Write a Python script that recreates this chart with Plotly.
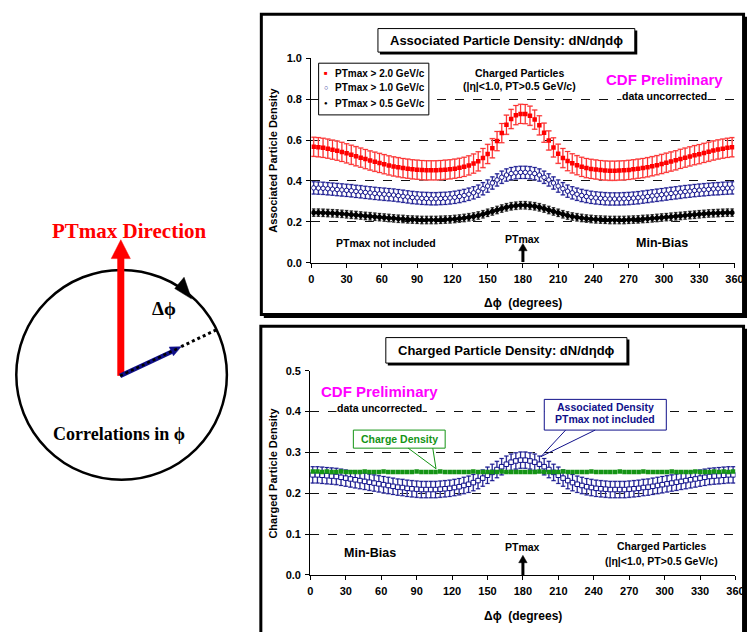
import plotly.graph_objects as go

W, H = 756, 632
SANS = "Liberation Sans, Arial, sans-serif"
SERIF = "Liberation Serif, Times New Roman, serif"


def px(x):
    return x / W


def py(y):
    return 1 - y / H


# ---------------- data ----------------
dphi = [2, 6, 10, 14, 18, 22, 26, 30, 34, 38,
        42, 46, 50, 54, 58, 62, 66, 70, 74, 78,
        82, 86, 90, 94, 98, 102, 106, 110, 114, 118,
        122, 126, 130, 134, 138, 142, 146, 150, 154, 158,
        162, 166, 170, 174, 178, 182, 186, 190, 194, 198,
        202, 206, 210, 214, 218, 222, 226, 230, 234, 238,
        242, 246, 250, 254, 258, 262, 266, 270, 274, 278,
        282, 286, 290, 294, 298, 302, 306, 310, 314, 318,
        322, 326, 330, 334, 338, 342, 346, 350, 354, 358]

ptmax_20 = [0.567, 0.565, 0.562, 0.558, 0.553, 0.548, 0.542, 0.535, 0.528, 0.521,
            0.514, 0.507, 0.500, 0.494, 0.488, 0.482, 0.476, 0.471, 0.467, 0.463,
            0.460, 0.457, 0.455, 0.453, 0.452, 0.452, 0.452, 0.453, 0.455, 0.457,
            0.460, 0.464, 0.469, 0.476, 0.485, 0.496, 0.512, 0.532, 0.560, 0.595,
            0.634, 0.675, 0.703, 0.722, 0.728, 0.727, 0.719, 0.700, 0.672, 0.636,
            0.598, 0.564, 0.533, 0.512, 0.497, 0.486, 0.477, 0.469, 0.463, 0.459,
            0.456, 0.453, 0.451, 0.450, 0.450, 0.451, 0.452, 0.454, 0.457, 0.460,
            0.463, 0.467, 0.472, 0.477, 0.483, 0.489, 0.495, 0.501, 0.508, 0.514,
            0.520, 0.526, 0.531, 0.537, 0.543, 0.549, 0.554, 0.558, 0.562, 0.565]

ptmax_10 = [0.366, 0.365, 0.364, 0.362, 0.360, 0.358, 0.356, 0.354, 0.352, 0.349,
            0.347, 0.344, 0.342, 0.339, 0.337, 0.335, 0.333, 0.331, 0.328, 0.325,
            0.322, 0.319, 0.317, 0.315, 0.314, 0.313, 0.313, 0.314, 0.315, 0.317,
            0.320, 0.324, 0.329, 0.335, 0.342, 0.350, 0.362, 0.375, 0.390, 0.405,
            0.418, 0.429, 0.436, 0.440, 0.442, 0.442, 0.440, 0.436, 0.429, 0.418,
            0.405, 0.390, 0.375, 0.362, 0.350, 0.342, 0.335, 0.329, 0.324, 0.320,
            0.317, 0.315, 0.313, 0.312, 0.312, 0.312, 0.313, 0.314, 0.316, 0.318,
            0.321, 0.324, 0.327, 0.330, 0.333, 0.336, 0.339, 0.342, 0.345, 0.348,
            0.350, 0.353, 0.355, 0.357, 0.359, 0.361, 0.362, 0.364, 0.365, 0.366]

ptmax_05 = [0.245, 0.245, 0.244, 0.243, 0.242, 0.241, 0.239, 0.237, 0.235, 0.233,
            0.231, 0.229, 0.227, 0.225, 0.223, 0.221, 0.219, 0.217, 0.215, 0.214,
            0.212, 0.211, 0.210, 0.209, 0.209, 0.209, 0.209, 0.210, 0.211, 0.212,
            0.214, 0.216, 0.219, 0.222, 0.226, 0.231, 0.237, 0.244, 0.251, 0.258,
            0.265, 0.271, 0.276, 0.279, 0.281, 0.281, 0.279, 0.276, 0.271, 0.265,
            0.258, 0.251, 0.244, 0.237, 0.231, 0.226, 0.222, 0.219, 0.216, 0.214,
            0.212, 0.211, 0.210, 0.209, 0.209, 0.209, 0.209, 0.210, 0.211, 0.212,
            0.214, 0.215, 0.217, 0.219, 0.221, 0.223, 0.225, 0.227, 0.229, 0.231,
            0.233, 0.235, 0.237, 0.239, 0.241, 0.242, 0.243, 0.244, 0.245, 0.245]

# associated density (PTmax not included) in min-bias = PTmax > 0.5 GeV/c sample
assoc_density = ptmax_05

charge_density = [0.253, 0.253, 0.252, 0.253, 0.252, 0.252, 0.253, 0.252, 0.252, 0.252,
                  0.252, 0.253, 0.252, 0.252, 0.252, 0.253, 0.252, 0.252, 0.252, 0.252,
                  0.252, 0.252, 0.253, 0.252, 0.252, 0.252, 0.252, 0.253, 0.252, 0.252,
                  0.252, 0.252, 0.252, 0.252, 0.253, 0.252, 0.252, 0.252, 0.252, 0.252,
                  0.253, 0.252, 0.252, 0.252, 0.252, 0.252, 0.252, 0.252, 0.253, 0.252,
                  0.252, 0.252, 0.252, 0.253, 0.252, 0.252, 0.252, 0.252, 0.252, 0.253,
                  0.252, 0.252, 0.252, 0.252, 0.252, 0.253, 0.252, 0.252, 0.252, 0.252,
                  0.253, 0.252, 0.252, 0.252, 0.252, 0.252, 0.253, 0.252, 0.252, 0.252,
                  0.252, 0.253, 0.252, 0.252, 0.252, 0.253, 0.252, 0.253, 0.252, 0.253]

err_20, err_10, err_05, err_assoc = 0.047, 0.030, 0.018, 0.020

x_ticks = [0, 30, 60, 90, 120, 150, 180, 210, 240, 270, 300, 330, 360]
y_ticks_top = [0.0, 0.2, 0.4, 0.6, 0.8, 1.0]
y_ticks_bot = [0.0, 0.1, 0.2, 0.3, 0.4, 0.5]
legend_labels = ["PTmax > 2.0 GeV/c", "PTmax > 1.0 GeV/c", "PTmax > 0.5 GeV/c"]

RED = "#ff0000"
NAVY = "#10108a"
GREEN = "#149414"
MAGENTA = "#ff00ff"

fig = go.Figure()


def add_series(y, err, xa, ya, symbol, size, fill, lcolor, ecol, ecol_light, cap):
    fig.add_trace(go.Scatter(
        x=dphi, y=y, mode="markers", xaxis=xa, yaxis=ya,
        marker=dict(size=size, color="rgba(0,0,0,0)"),
        error_y=dict(type="constant", value=err, color=ecol_light, thickness=1.6, width=cap),
        hoverinfo="skip", showlegend=False))
    fig.add_trace(go.Scatter(
        x=dphi, y=y, mode="markers", xaxis=xa, yaxis=ya,
        marker=dict(symbol=symbol, size=size, color=fill,
                    line=dict(color=lcolor, width=1 if fill == "white" else 0)),
        error_y=dict(type="constant", value=err, color=ecol, thickness=0.9, width=cap - 0.5),
        hoverinfo="skip", showlegend=False))


# top panel
add_series(ptmax_05, err_05, "x", "y", "diamond", 5.5, "black", "black", "#111111", "#a8a8a8", 2)
add_series(ptmax_10, err_10, "x", "y", "circle", 4.5, "white", NAVY, NAVY, "#a8a8d8", 2.5)
add_series(ptmax_20, err_20, "x", "y", "square", 4.5, RED, RED, "#ff2020", "#f8b0b0", 3)
# bottom panel
add_series(assoc_density, err_assoc, "x2", "y2", "square", 4.5, "white", NAVY, NAVY, "#a8a8d8", 2.5)
fig.add_trace(go.Scatter(x=dphi, y=charge_density, mode="markers", xaxis="x2", yaxis="y2",
                         marker=dict(symbol="square", size=4.5, color=GREEN),
                         hoverinfo="skip", showlegend=False))

tickfont = dict(family=SANS, size=11, color="black", weight="bold")
xcommon = dict(range=[0, 360], tickvals=x_ticks, ticks="outside", ticklen=4, tickwidth=1.3,
               tickcolor="black", showline=True, linecolor="black", linewidth=1.3,
               showgrid=False, zeroline=False, tickfont=tickfont, fixedrange=True,
               ticklabelstandoff=2)
ycommon = dict(ticks="outside", ticklen=4, tickwidth=1.3, tickcolor="black", showline=True,
               linecolor="black", linewidth=1.3, showgrid=True, gridcolor="#111111",
               griddash="dash", gridwidth=1, zeroline=False, tickformat=".1f",
               tickfont=tickfont, fixedrange=True, ticklabelstandoff=2)

fig.update_layout(
    width=W, height=H, autosize=False, margin=dict(l=0, r=0, t=0, b=0),
    paper_bgcolor="white", plot_bgcolor="rgba(0,0,0,0)", showlegend=False,
    xaxis=dict(domain=[px(313.3), px(743.3)], anchor="y", **xcommon),
    yaxis=dict(domain=[py(261.7), py(53.3)], anchor="x", range=[0, 1], tickvals=y_ticks_top, **ycommon),
    xaxis2=dict(domain=[px(312.3), px(744.3)], anchor="y2", **xcommon),
    yaxis2=dict(domain=[py(580), py(371.7)], anchor="x2", range=[0, 0.5], tickvals=y_ticks_bot, **ycommon),
)

shapes = []
ann = []


def rect(x0, y0, x1, y1, line=1, lcolor="black", fill="white", layer="below"):
    shapes.append(dict(type="rect", xref="paper", yref="paper", x0=px(x0), x1=px(x1),
                       y0=py(y1), y1=py(y0), line=dict(color=lcolor, width=line),
                       fillcolor=fill, layer=layer))


def path(pts, fill=None, lcolor="black", width=1, layer="above", closed=True, dash=None):
    d = "M " + " L ".join(f"{px(a):.5f},{py(b):.5f}" for a, b in pts) + (" Z" if closed else "")
    s = dict(type="path", xref="paper", yref="paper", path=d, layer=layer,
             line=dict(color=lcolor, width=width))
    if dash:
        s["line"]["dash"] = dash
    if fill:
        s["fillcolor"] = fill
    shapes.append(s)


def line(x0, y0, x1, y1, color="black", width=1, dash=None, layer="above"):
    s = dict(type="line", xref="paper", yref="paper", x0=px(x0), y0=py(y0), x1=px(x1), y1=py(y1),
             line=dict(color=color, width=width), layer=layer)
    if dash:
        s["line"]["dash"] = dash
    shapes.append(s)


def text(x, y, s, size, color="black", family=SANS, bold=True, bg=None, xanchor="center", angle=0):
    a = dict(xref="paper", yref="paper", x=px(x), y=py(y), text=s, showarrow=False,
             xanchor=xanchor, yanchor="middle", textangle=angle,
             font=dict(family=family, size=size, color=color, weight="bold" if bold else "normal"))
    if bg:
        a["bgcolor"] = bg
        a["borderpad"] = 0
    ann.append(a)


# ---------- panel frames ----------
rect(265, 11, 756, 318, line=0, fill="black")
rect(262.5, 8.5, 752.5, 314.5, line=3)
rect(265, 329, 756, 640, line=0, fill="black")
rect(262, 326.5, 752.5, 640, line=3)

# title boxes
rect(383, 25, 644.5, 49.5, line=0, fill="black")
rect(381, 23, 642, 47, line=1)
text(511.5, 35, "Associated Particle Density: dN/dηdϕ", 13)
rect(391, 340, 636.5, 366.5, line=0, fill="black")
rect(389, 338, 634, 364, line=1)
text(511.5, 351, "Charged Particle Density: dN/dηdϕ", 13)

# axis titles
text(274, 157, "Associated Particle Density", 11, angle=-90)
text(274, 476, "Charged Particle Density", 11, angle=-90)
text(528, 302.5, "Δϕ\u00a0\u00a0(degrees)", 12)
text(528, 621.5, "Δϕ\u00a0\u00a0(degrees)", 12)

# ---------- top panel annotations ----------
rect(320.7, 58.3, 432.7, 111, line=1, layer="above")
text(328.3, 68.3, "■", 6, color=RED)
text(328.3, 83.5, "○", 7, color=NAVY)
text(328.3, 99.3, "●", 6, color="black")
for yy, lab in zip([68.3, 83.5, 99.3], legend_labels):
    text(335, yy, lab, 10, xanchor="left")

text(525, 68, "Charged Particles", 10.5)
text(525, 82, "(|η|&lt;1.0, PT&gt;0.5 GeV/c)", 10.5)
text(671.7, 75, "CDF Preliminary", 15, color=MAGENTA)
text(671.7, 91.7, "data uncorrected", 10.5, bg="white")
text(389.3, 241.7, "PTmax not included", 10.5)
text(528.3, 237.3, "PTmax", 10.5)
text(670, 241.7, "Min-Bias", 12.5)
line(528.3, 261, 528.3, 248, width=3)
path([(524, 249.5), (532.6, 249.5), (528.3, 242)], fill="black", width=0.5)

# ---------- bottom panel annotations ----------
text(382.7, 392.7, "CDF Preliminary", 15, color=MAGENTA)
text(382.7, 409.3, "data uncorrected", 10.5, bg="white")
rect(550, 401, 674, 432.3, line=1, lcolor=NAVY, layer="above")
path([(571.7, 432.3), (546.7, 459.3), (601.7, 432.3)], lcolor=NAVY, width=1, closed=False)
text(612, 408.5, "Associated Density", 10.5, color=NAVY)
text(612, 421, "PTmax not included", 10.5, color=NAVY)
rect(356, 432.3, 449.3, 450.7, line=1, lcolor=GREEN, layer="above")
path([(411.7, 450.7), (440, 471.7), (436.7, 450.7)], lcolor=GREEN, width=1, closed=False)
text(402.7, 441.5, "Charge Density", 10.5, color=GREEN)
text(372.7, 557.7, "Min-Bias", 12.5)
text(528.3, 551.7, "PTmax", 10.5)
line(528.3, 580, 528.3, 566, width=3)
path([(524, 567.5), (532.6, 567.5), (528.3, 560)], fill="black", width=0.5)
text(669.3, 550.7, "Charged Particles", 10.5)
text(669.3, 566, "(|η|&lt;1.0, PT&gt;0.5 GeV/c)", 10.5)

# ---------- left diagram ----------
shapes.append(dict(type="circle", xref="paper", yref="paper", x0=px(13.5), x1=px(227.5),
                   y0=py(483), y1=py(269), line=dict(color="black", width=2.5), layer="above"))
line(119.7, 377, 119.7, 255, color=RED, width=7)
path([(110, 257.5), (129.4, 257.5), (119.7, 238.3)], fill=RED, lcolor=RED, width=0.5)
line(119, 377, 172, 352.2, color=NAVY, width=4.5)
path([(181, 347.3), (173.2, 356.6), (168.9, 347.6)], fill=NAVY, lcolor=NAVY, width=0.5)
line(119, 377, 179, 348.4, color="black", width=2.5, dash="dot")
line(181, 347.3, 217, 330, color="black", width=3, dash="dot")
path([(174.5, 288), (184, 276.5), (191.5, 298.5)], fill="black", width=0.5)
text(128.3, 229.5, "PTmax Direction", 21, color=RED, family=SERIF)
text(164, 308, "Δϕ", 19, family=SERIF)
text(117.5, 436, "Correlations in ϕ", 18, family=SERIF)

fig.update_layout(shapes=shapes, annotations=ann)
fig.write_html("out.html", config={"displayModeBar": False},
               post_script="document.body.style.margin='0px';document.body.style.overflow='hidden';")
